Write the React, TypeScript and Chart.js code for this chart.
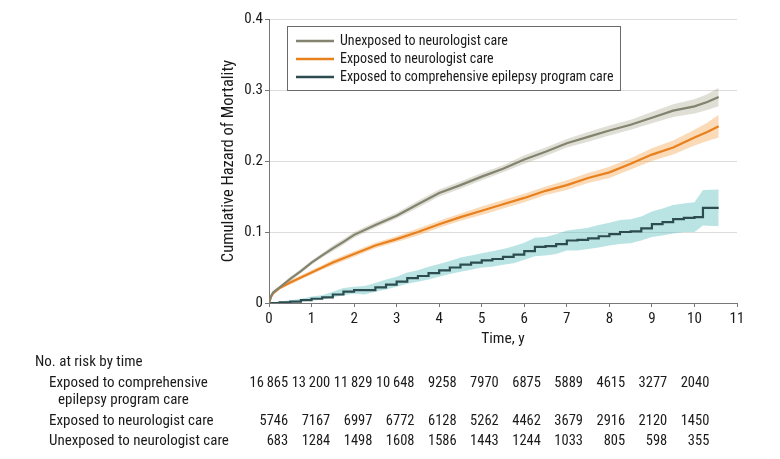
import React, { useEffect, useRef } from "react";
import { Chart, registerables } from "chart.js";

Chart.register(...registerables);

const FONT = '"Roboto Condensed", "Liberation Sans", sans-serif';

// Time points (years)
const timesSmooth = [0, 0.05, 0.1, 0.25, 0.5, 0.75, 1, 1.25, 1.5, 1.75, 2, 2.5, 3, 3.5, 4, 4.5, 5, 5.5, 6, 6.5, 7, 7.5, 8, 8.5, 9, 9.5, 10, 10.3, 10.57];

// Unexposed to neurologist care
const unexposed = [0, 0.010, 0.015, 0.022, 0.034, 0.045, 0.057, 0.067, 0.077, 0.086, 0.096, 0.110, 0.123, 0.139, 0.155, 0.166, 0.178, 0.189, 0.202, 0.213, 0.225, 0.234, 0.243, 0.251, 0.261, 0.271, 0.277, 0.283, 0.290];
const unexposedLow = [0, 0.008, 0.013, 0.020, 0.031, 0.042, 0.054, 0.064, 0.073, 0.082, 0.092, 0.106, 0.119, 0.134, 0.150, 0.161, 0.173, 0.184, 0.196, 0.207, 0.219, 0.227, 0.236, 0.244, 0.253, 0.262, 0.267, 0.272, 0.277];
const unexposedHigh = [0, 0.012, 0.017, 0.024, 0.037, 0.048, 0.060, 0.070, 0.081, 0.090, 0.100, 0.114, 0.127, 0.144, 0.160, 0.171, 0.183, 0.194, 0.208, 0.219, 0.231, 0.241, 0.250, 0.258, 0.269, 0.280, 0.287, 0.294, 0.303];

// Exposed to neurologist care
const neuro = [0, 0.009, 0.014, 0.021, 0.029, 0.036, 0.043, 0.050, 0.057, 0.063, 0.069, 0.081, 0.090, 0.100, 0.111, 0.121, 0.130, 0.139, 0.148, 0.158, 0.166, 0.176, 0.184, 0.196, 0.209, 0.219, 0.233, 0.241, 0.249];
const neuroLow = [0, 0.007, 0.012, 0.019, 0.026, 0.033, 0.040, 0.047, 0.053, 0.059, 0.065, 0.077, 0.086, 0.095, 0.106, 0.116, 0.124, 0.133, 0.142, 0.152, 0.159, 0.169, 0.176, 0.188, 0.200, 0.209, 0.222, 0.228, 0.233];
const neuroHigh = [0, 0.011, 0.016, 0.023, 0.032, 0.039, 0.046, 0.053, 0.061, 0.067, 0.073, 0.085, 0.094, 0.105, 0.116, 0.126, 0.136, 0.145, 0.154, 0.164, 0.173, 0.183, 0.192, 0.204, 0.218, 0.229, 0.244, 0.254, 0.265];

// Exposed to comprehensive epilepsy program care (stepped)
const timesStep = [0, 0.25, 0.5, 0.75, 1, 1.25, 1.5, 1.75, 2, 2.25, 2.5, 2.75, 3, 3.25, 3.5, 3.75, 4, 4.25, 4.5, 4.75, 5, 5.25, 5.5, 5.75, 6, 6.25, 6.5, 6.75, 7, 7.25, 7.5, 7.75, 8, 8.25, 8.5, 8.75, 9, 9.25, 9.5, 9.75, 10, 10.2, 10.57];
const cep = [0, 0.001, 0.002, 0.004, 0.006, 0.008, 0.012, 0.016, 0.018, 0.018, 0.022, 0.026, 0.030, 0.035, 0.038, 0.042, 0.046, 0.050, 0.054, 0.057, 0.060, 0.062, 0.065, 0.068, 0.073, 0.079, 0.080, 0.083, 0.088, 0.089, 0.091, 0.094, 0.097, 0.100, 0.101, 0.105, 0.111, 0.114, 0.118, 0.120, 0.121, 0.134, 0.134];
const cepLow = [0, 0, 0, 0.002, 0.003, 0.005, 0.008, 0.011, 0.013, 0.012, 0.016, 0.019, 0.023, 0.027, 0.030, 0.033, 0.037, 0.041, 0.044, 0.047, 0.050, 0.051, 0.054, 0.056, 0.061, 0.066, 0.067, 0.069, 0.074, 0.074, 0.076, 0.078, 0.081, 0.083, 0.084, 0.088, 0.093, 0.095, 0.098, 0.100, 0.100, 0.109, 0.108];
const cepHigh = [0, 0.002, 0.004, 0.006, 0.009, 0.011, 0.016, 0.021, 0.023, 0.024, 0.028, 0.033, 0.037, 0.043, 0.046, 0.051, 0.055, 0.059, 0.064, 0.067, 0.070, 0.073, 0.076, 0.080, 0.085, 0.092, 0.093, 0.097, 0.102, 0.104, 0.106, 0.110, 0.113, 0.117, 0.118, 0.122, 0.129, 0.133, 0.138, 0.140, 0.142, 0.159, 0.160];

// Legend labels
const seriesLabels = [
  "Unexposed to neurologist care",
  "Exposed to neurologist care",
  "Exposed to comprehensive epilepsy program care",
];
const lineColors = ["#83836f", "#e8801e", "#2c4c4f"];
const bandColors = ["rgba(150,150,115,0.30)", "rgba(240,150,50,0.35)", "rgba(90,190,190,0.42)"];

// Number at risk table
const riskYears = [0, 1, 2, 3, 4, 5, 6, 7, 8, 9, 10];
const riskCep = [16865, 13200, 11829, 10648, 9258, 7970, 6875, 5889, 4615, 3277, 2040];
const riskNeuro = [5746, 7167, 6997, 6772, 6128, 5262, 4462, 3679, 2916, 2120, 1450];
const riskUnexposed = [683, 1284, 1498, 1608, 1586, 1443, 1244, 1033, 805, 598, 355];

const yTicks = [0, 0.1, 0.2, 0.3, 0.4];

function pts(xs: number[], ys: number[]) {
  return xs.map((x, i) => ({ x, y: ys[i] }));
}

function fmt(n: number) {
  const s = String(n);
  return s.length > 4 ? s.slice(0, s.length - 3) + "\u2009" + s.slice(s.length - 3) : s;
}

const overlayPlugin = {
  id: "overlay",
  afterDraw(chart: any) {
    const ctx = chart.ctx as CanvasRenderingContext2D;
    const area = chart.chartArea;
    const xs = chart.scales.x;
    ctx.save();
    // Legend
    const lx = area.left + 18;
    const ly = area.top + 7;
    const lw = 333;
    const lh = 64;
    ctx.fillStyle = "#ffffff";
    ctx.fillRect(lx, ly, lw, lh);
    ctx.strokeStyle = "#6a6a6a";
    ctx.lineWidth = 1;
    ctx.strokeRect(lx + 0.5, ly + 0.5, lw, lh);
    ctx.font = `14px ${FONT}`;
    ctx.textBaseline = "middle";
    ctx.textAlign = "left";
    seriesLabels.forEach((lab, i) => {
      const y = ly + 15 + i * 18;
      ctx.strokeStyle = lineColors[i];
      ctx.lineWidth = 2.5;
      ctx.beginPath();
      ctx.moveTo(lx + 9, y);
      ctx.lineTo(lx + 47, y);
      ctx.stroke();
      ctx.fillStyle = "#1a1a1a";
      ctx.fillText(lab, lx + 53, y);
    });
    // Number at risk table
    ctx.font = `15px ${FONT}`;
    ctx.fillStyle = "#1a1a1a";
    ctx.textAlign = "left";
    ctx.fillText("No. at risk by time", 35, 362);
    ctx.fillText("Exposed to comprehensive", 49, 383);
    ctx.fillText("epilepsy program care", 58, 400);
    ctx.fillText("Exposed to neurologist care", 49, 421);
    ctx.fillText("Unexposed to neurologist care", 49, 441);
    ctx.font = `14.5px ${FONT}`;
    ctx.textAlign = "right";
    const rows: [number[], number][] = [
      [riskCep, 383],
      [riskNeuro, 421],
      [riskUnexposed, 441],
    ];
    rows.forEach(([vals, y]) => {
      vals.forEach((v, i) => {
        const px = xs.getPixelForValue(riskYears[i] * 0.99 + 0.45);
        ctx.fillText(fmt(v), px, y);
      });
    });
    ctx.restore();
  },
};

export default function App() {
  const ref = useRef<HTMLCanvasElement>(null);
  useEffect(() => {
    Chart.defaults.font.family = FONT;
    Chart.defaults.font.size = 15;
    Chart.defaults.color = "#1a1a1a";
    const line = (label: string, xs: number[], ys: number[], i: number, stepped: boolean) => ({
      label,
      data: pts(xs, ys),
      borderColor: lineColors[i],
      borderWidth: 2.2,
      pointRadius: 0,
      fill: false,
      stepped,
      order: 0,
    });
    const band = (xs: number[], hi: number[], lo: number[], i: number, stepped: boolean) => [
      {
        label: "hi" + i,
        data: pts(xs, hi),
        borderWidth: 0,
        borderColor: "rgba(0,0,0,0)",
        backgroundColor: bandColors[i],
        pointRadius: 0,
        fill: "+1",
        stepped,
        order: 1,
      },
      {
        label: "lo" + i,
        data: pts(xs, lo),
        borderWidth: 0,
        borderColor: "rgba(0,0,0,0)",
        pointRadius: 0,
        fill: false,
        stepped,
        order: 1,
      },
    ];
    const chart = new Chart(ref.current!, {
      type: "line",
      data: {
        datasets: [
          line(seriesLabels[0], timesSmooth, unexposed, 0, false),
          line(seriesLabels[1], timesSmooth, neuro, 1, false),
          line(seriesLabels[2], timesStep, cep, 2, true),
          ...band(timesSmooth, unexposedHigh, unexposedLow, 0, false),
          ...band(timesSmooth, neuroHigh, neuroLow, 1, false),
          ...band(timesStep, cepHigh, cepLow, 2, false),
        ] as any,
      },
      options: {
        animation: false,
        responsive: false,
        devicePixelRatio: 1,
        layout: { padding: { left: 0, top: 19, right: 43, bottom: 0 } },
        plugins: {
          legend: { display: false },
          tooltip: { enabled: false },
        },
        scales: {
          x: {
            type: "linear",
            min: 0,
            max: 11,
            ticks: { stepSize: 1, padding: 3, color: "#1a1a1a", font: { size: 15 } },
            grid: { drawOnChartArea: false, drawTicks: true, tickLength: 4, tickColor: "#777" },
            border: { color: "#777", width: 1 },
            title: { display: true, text: "Time, y", font: { size: 15.5 }, padding: { top: 0, bottom: 111 }, color: "#1a1a1a" },
            afterFit(scale: any) {
              scale.height = 156;
            },
          },
          y: {
            min: 0,
            max: 0.4,
            afterBuildTicks(scale: any) {
              scale.ticks = yTicks.map((v) => ({ value: v }));
            },
            ticks: {
              padding: 2,
              color: "#1a1a1a",
              font: { size: 15 },
              callback: (v: any) => (v === 0 ? "0" : Number(v).toFixed(1)),
            },
            grid: { color: "#dcdcdc", tickColor: "#777", tickLength: 4, lineWidth: 1 },
            border: { color: "#777", width: 1 },
            title: { display: true, text: "Cumulative Hazard of Mortality", font: { size: 16.5 }, padding: { top: 219, bottom: 0 }, color: "#1a1a1a" },
            afterFit(scale: any) {
              scale.width = 269;
            },
          },
        },
      },
      plugins: [overlayPlugin],
    });
    return () => chart.destroy();
  }, []);
  return (
    <div style={{ position: "absolute", left: 0, top: 0, width: 780, height: 459, background: "#fff" }}>
      <canvas ref={ref} width={780} height={459} style={{ display: "block" }} />
    </div>
  );
}
